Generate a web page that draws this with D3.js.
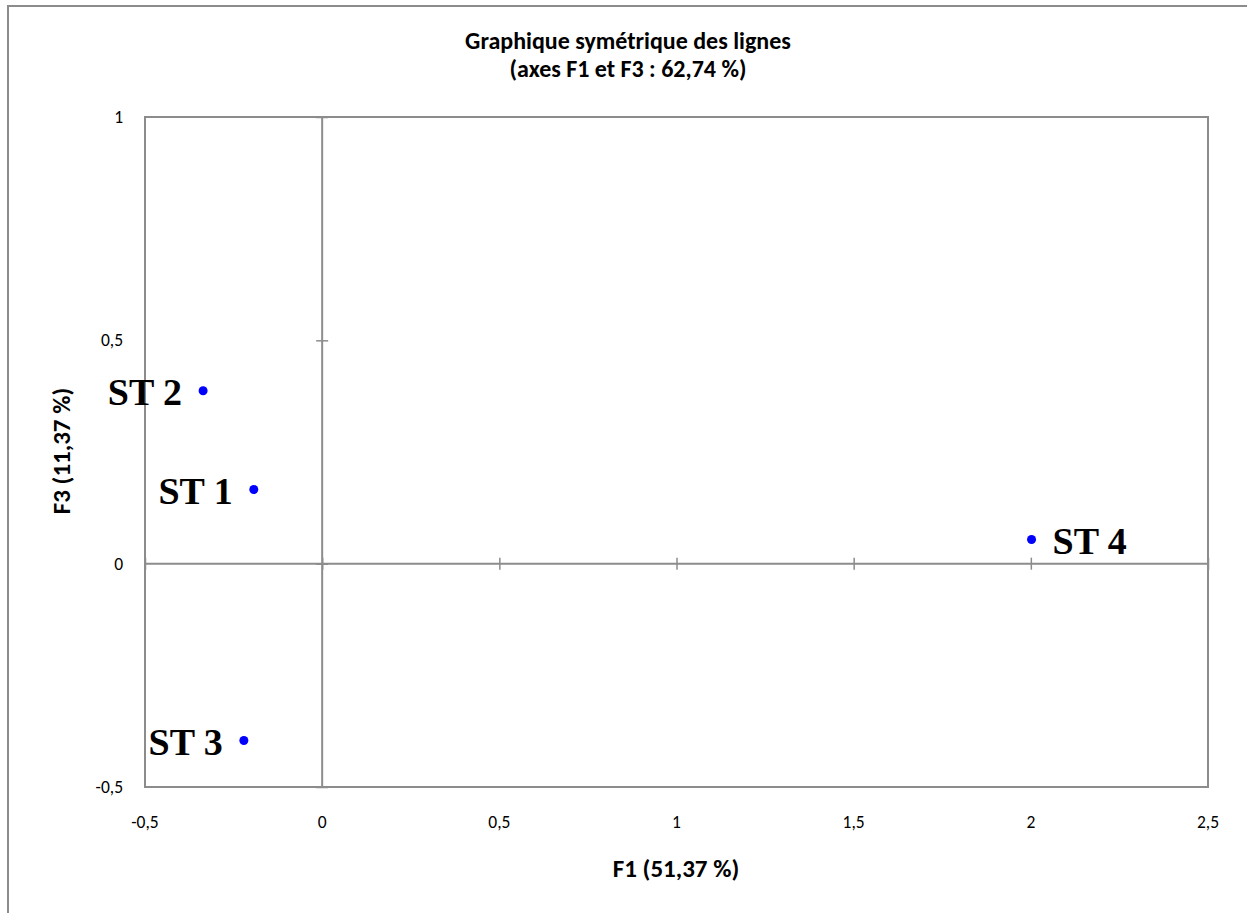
<!DOCTYPE html>
<html>
<head>
<meta charset="utf-8">
<script src="https://cdn.jsdelivr.net/npm/d3@7"></script>
<style>
  body { margin: 0; background: #fff; }
  svg text { font-family: Carlito, Calibri, "Open Sans", sans-serif; }
</style>
</head>
<body>
<div id="chart"></div>
<script>
  var stations = ["ST 1", "ST 2", "ST 3", "ST 4"];
  var f1       = [-0.193, -0.336, -0.221, 2.002];
  var f3       = [0.166, 0.387, -0.396, 0.054];
  var xTicks   = [-0.5, 0, 0.5, 1, 1.5, 2, 2.5];
  var yTicks   = [-0.5, 0, 0.5, 1];
  // label side: -1 = left of the point, 1 = right
  var labelSide = [-1, -1, -1, 1];

  var W = 1247, H = 913;
  var plot = {left: 145, top: 117, right: 1208, bottom: 787};
  var grey = "#8c8c8c";

  var svg = d3.select("#chart").append("svg")
    .attr("width", W).attr("height", H);

  // outer chart frame (runs off the right and bottom edges)
  svg.append("rect")
    .attr("x", 8).attr("y", 6).attr("width", W).attr("height", H)
    .attr("fill", "none").attr("stroke", grey).attr("stroke-width", 2);

  var x = d3.scaleLinear().domain([-0.5, 2.5]).range([plot.left, plot.right]);
  var y = d3.scaleLinear().domain([-0.5, 1]).range([plot.bottom, plot.top]);

  svg.append("rect")
    .attr("x", plot.left).attr("y", plot.top)
    .attr("width", plot.right - plot.left).attr("height", plot.bottom - plot.top)
    .attr("fill", "none").attr("stroke", grey).attr("stroke-width", 2);

  // axes through the origin, ticks crossing the line
  var xAxis = d3.axisBottom(x).tickValues(xTicks).tickSize(12).tickFormat("");
  svg.append("g")
    .attr("transform", "translate(0," + (y(0) - 6) + ")")
    .call(xAxis)
    .call(function(g){
      g.select(".domain").remove();
      g.selectAll("line").attr("stroke", grey).attr("stroke-width", 1.5);
    });
  svg.append("line")
    .attr("x1", plot.left).attr("x2", plot.right)
    .attr("y1", y(0)).attr("y2", y(0))
    .attr("stroke", grey).attr("stroke-width", 2);

  var yAxis = d3.axisLeft(y).tickValues(yTicks).tickSize(12).tickFormat("");
  svg.append("g")
    .attr("transform", "translate(" + (x(0) + 6) + ",0)")
    .call(yAxis)
    .call(function(g){
      g.select(".domain").remove();
      g.selectAll("line").attr("stroke", grey).attr("stroke-width", 1.5);
    });
  svg.append("line")
    .attr("x1", x(0)).attr("x2", x(0))
    .attr("y1", plot.top).attr("y2", plot.bottom)
    .attr("stroke", grey).attr("stroke-width", 2);

  var fmt = function(v){ return String(v).replace(".", ","); };

  svg.selectAll(".xlab").data(xTicks).enter().append("text")
    .attr("x", function(d){ return x(d); })
    .attr("y", plot.bottom + 41)
    .attr("text-anchor", "middle")
    .attr("font-size", 17.5)
    .text(fmt);

  svg.selectAll(".ylab").data(yTicks).enter().append("text")
    .attr("x", plot.left - 22)
    .attr("y", function(d){ return y(d) + 6; })
    .attr("text-anchor", "end")
    .attr("font-size", 17.5)
    .text(fmt);

  // titles
  svg.append("text")
    .attr("x", 628).attr("y", 49)
    .attr("text-anchor", "middle").attr("font-size", 24).attr("font-weight", "bold")
    .text("Graphique symétrique des lignes");
  svg.append("text")
    .attr("x", 628).attr("y", 77)
    .attr("text-anchor", "middle").attr("font-size", 24).attr("font-weight", "bold")
    .text("(axes F1 et F3 : 62,74 %)");
  svg.append("text")
    .attr("x", 676).attr("y", 877)
    .attr("text-anchor", "middle").attr("font-size", 25).attr("font-weight", "bold")
    .text("F1 (51,37 %)");
  svg.append("text")
    .attr("transform", "translate(70,451) rotate(-90)")
    .attr("text-anchor", "middle").attr("font-size", 25).attr("font-weight", "bold")
    .text("F3 (11,37 %)");

  // points
  var pts = svg.selectAll(".pt").data(stations).enter().append("g");
  pts.append("circle")
    .attr("cx", function(d, i){ return x(f1[i]); })
    .attr("cy", function(d, i){ return y(f3[i]); })
    .attr("r", 4.5)
    .attr("fill", "#0000ff");
  pts.append("text")
    .attr("x", function(d, i){ return x(f1[i]) + labelSide[i] * 21; })
    .attr("y", function(d, i){ return y(f3[i]) + 14; })
    .attr("text-anchor", function(d, i){ return labelSide[i] < 0 ? "end" : "start"; })
    .style("font-family", "'Liberation Serif', 'Times New Roman', serif")
    .attr("font-size", 38).attr("font-weight", "bold")
    .text(function(d){ return d; });
</script>
</body>
</html>
